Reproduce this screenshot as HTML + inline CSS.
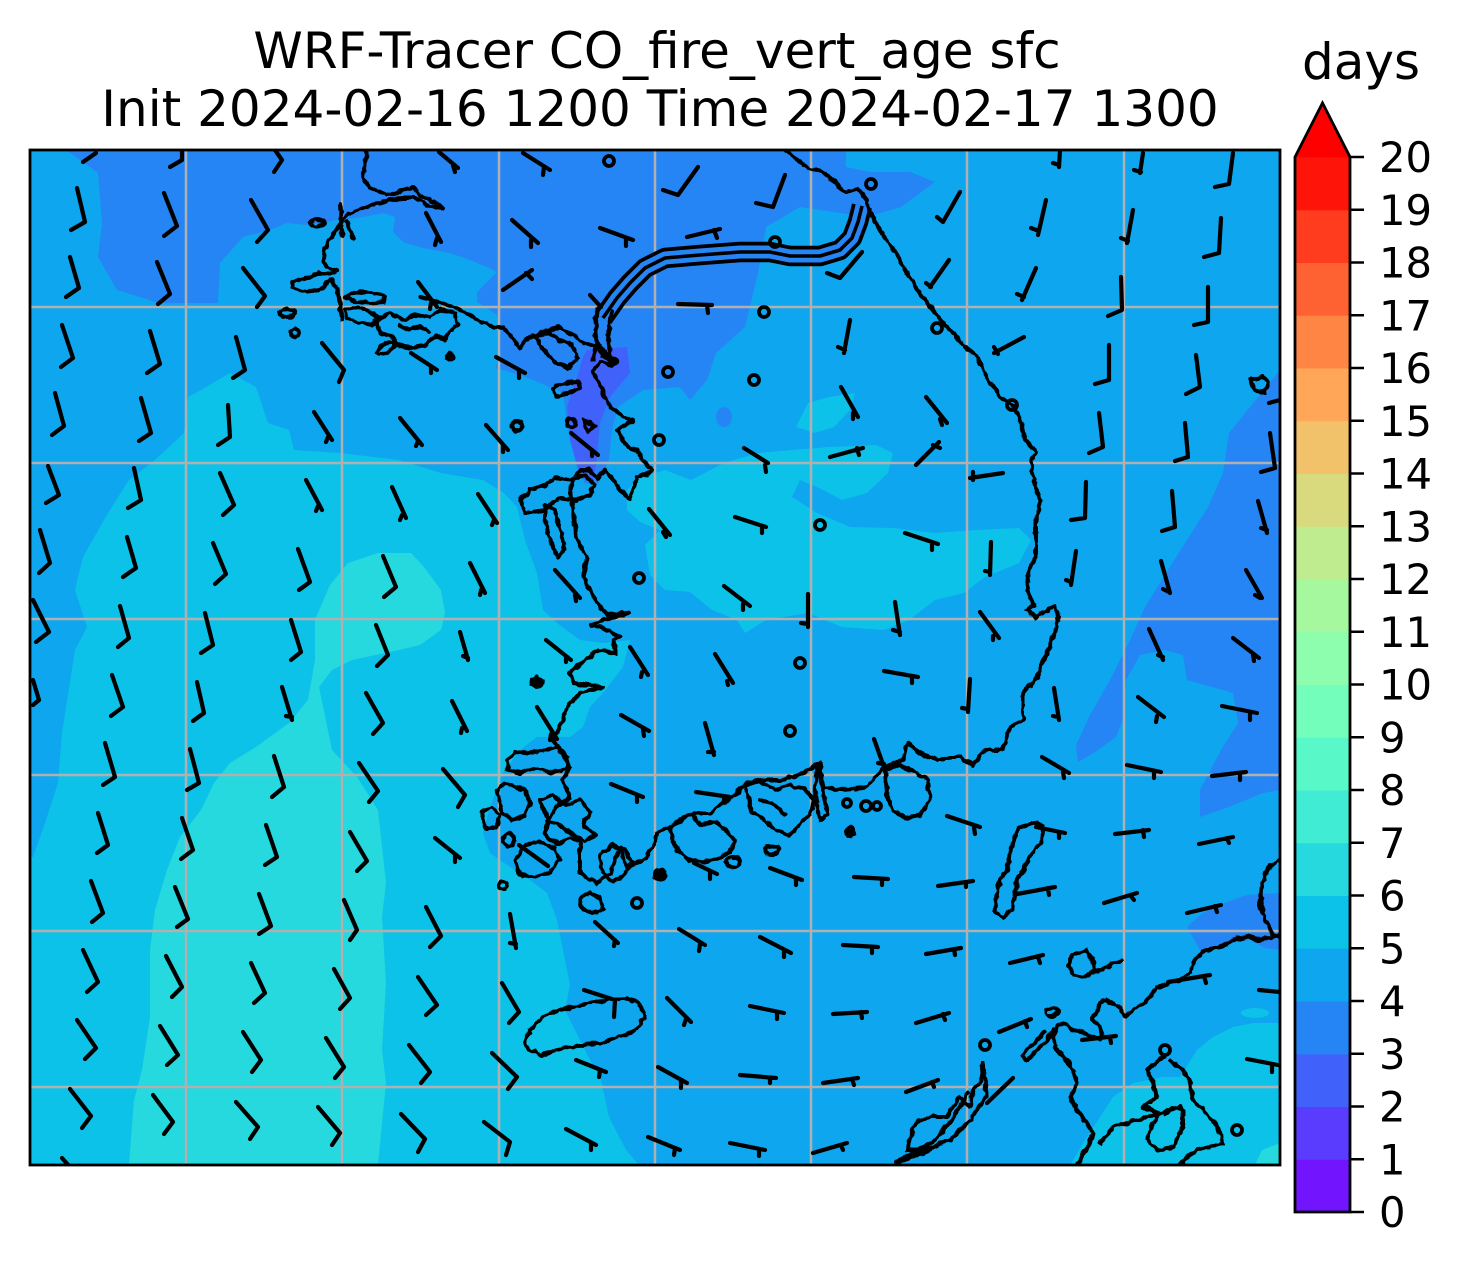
<!DOCTYPE html>
<html><head><meta charset="utf-8">
<style>
html,body{margin:0;padding:0;background:#fff;}
svg{display:block;}
text{font-family:"DejaVu Sans","Liberation Sans",sans-serif;fill:#000;}
</style></head><body>
<svg width="1462" height="1267" viewBox="0 0 1462 1267" xmlns="http://www.w3.org/2000/svg">
<defs>
<clipPath id="ax"><rect x="30" y="150" width="1250" height="1015"/></clipPath>
<filter id="rough" filterUnits="userSpaceOnUse" x="0" y="0" width="1462" height="1267">
<feTurbulence type="fractalNoise" baseFrequency="0.13" numOctaves="2" seed="3" result="n"/>
<feDisplacementMap in="SourceGraphic" in2="n" scale="5" xChannelSelector="R" yChannelSelector="G"/>
</filter>
</defs>
<rect x="0" y="0" width="1462" height="1267" fill="#fff"/>
<g clip-path="url(#ax)">
<rect x="30" y="150" width="1250" height="1015" fill="#0da6ef"/>
<polygon fill="#2685f5" points="66,150 98,173 102,223 98,257 117,290 159,303 218,303 220,263 243,237 270,230 287,223 307,225 337,220 363,217 383,213 395,217 393,232 403,242 423,248 450,253 470,260 487,267 497,272 487,282 477,292 477,302 487,308 497,315 500,332 500,343 496,368 510,372 523,376 545,385 563,393 567,423 572,445 580,463 584,483 597,485 609,460 612,430 618,407 643,390 680,387 690,400 707,380 716,353 745,327 758,273 766,227 800,207 867,217 901,207 935,182 910,172 870,172 846,167 846,150"/>
<ellipse cx="724" cy="417" rx="8" ry="10" fill="#2685f5"/>
<polygon fill="#2685f5" points="1280,370 1250,407 1229,433 1223,473 1208,507 1187,540 1166,573 1145,607 1130,640 1110,680 1090,715 1076,745 1078,762 1095,752 1116,737 1124,717 1126,680 1140,655 1165,650 1183,655 1187,680 1212,687 1233,693 1238,723 1221,750 1200,790 1200,817 1229,807 1263,793 1280,790"/>
<polygon fill="#2685f5" points="1187,927 1200,915 1213,907 1247,895 1280,893 1280,950 1265,948 1250,940 1220,945 1200,950"/>
<polygon fill="#4062fa" points="587,350 627,347 630,373 610,397 600,423 597,457 593,483 580,477 570,440 567,407 577,377 583,357"/>
<polygon fill="#0dc2e8" points="188,397 201,390 230,373 256,387 268,423 289,430 294,450 340,453 399,460 441,473 483,480 504,493 517,507 525,540 537,573 543,610 557,623 580,640 603,643 630,640 623,667 603,693 590,707 583,727 570,737 537,737 520,750 503,773 490,807 483,833 490,853 510,867 530,880 547,893 557,920 563,950 570,985 565,1010 590,1060 601,1080 609,1117 626,1150 639,1165 30,1165 30,857 33,857 45,823 58,783 62,733 75,650 87,627 75,590 83,557 108,513 129,480 155,460 184,433"/>
<polygon fill="#0dc2e8" points="627,490 640,478 665,470 691,480 724,463 758,453 792,450 829,447 876,445 893,453 888,473 867,493 842,500 817,487 800,480 792,497 817,513 850,527 893,528 935,533 977,530 1019,528 1031,540 1019,563 985,577 964,593 935,600 909,620 884,630 842,627 808,613 766,620 745,633 737,620 712,610 690,592 665,590 650,575 645,545 660,530 640,522 627,510"/>
<polygon fill="#0dc2e8" points="796,427 808,403 829,397 855,393 850,410 834,427 815,433"/>
<polygon fill="#0dc2e8" points="1070,1165 1087,1137 1113,1097 1133,1083 1163,1077 1180,1077 1197,1050 1213,1037 1233,1027 1253,1023 1280,1023 1280,1165"/>
<ellipse cx="1255" cy="1013" rx="14" ry="5" fill="#0dc2e8"/>
<polygon fill="#26d9de" points="348,563 378,553 411,553 424,567 441,590 445,613 441,630 420,645 399,650 352,660 332,670 319,687 332,750 357,777 378,810 386,883 382,917 386,983 382,1050 386,1083 382,1123 378,1165 129,1165 134,1100 142,1070 150,1017 150,950 155,910 167,870 180,837 201,810 214,783 230,763 256,747 289,723 308,700 315,660 315,620 330,585"/>
<polygon fill="#26d9de" points="1255,1165 1262,1150 1280,1143 1280,1165"/>

<g stroke="#b0b0b0" stroke-width="2.5">
<line x1="186" y1="150" x2="186" y2="1165"/><line x1="342" y1="150" x2="342" y2="1165"/><line x1="499" y1="150" x2="499" y2="1165"/><line x1="655" y1="150" x2="655" y2="1165"/><line x1="811" y1="150" x2="811" y2="1165"/><line x1="967" y1="150" x2="967" y2="1165"/><line x1="1124" y1="150" x2="1124" y2="1165"/>
<line x1="30" y1="307" x2="1280" y2="307"/><line x1="30" y1="463" x2="1280" y2="463"/><line x1="30" y1="619" x2="1280" y2="619"/><line x1="30" y1="775" x2="1280" y2="775"/><line x1="30" y1="931" x2="1280" y2="931"/><line x1="30" y1="1087" x2="1280" y2="1087"/>
</g>

<path d="M603,318 L617,298 L630,283 L645,268 L665,258 L700,255 L740,252 L770,252 L790,256 L820,256 L840,250 L852,238 L858,222 L862,206" fill="none" stroke="#000" stroke-width="20.5" stroke-linejoin="round"/>
<path d="M603,318 L617,298 L630,283 L645,268 L665,258 L700,255 L740,252 L770,252 L790,256 L820,256 L840,250 L852,238 L858,222 L862,206" fill="none" stroke="#2685f5" stroke-width="13" stroke-linejoin="round"/>
<path d="M603,318 L617,298 L630,283 L645,268 L665,258 L700,255 L740,252 L770,252 L790,256 L820,256 L840,250 L852,238 L858,222 L862,206" fill="none" stroke="#000" stroke-width="3.6" stroke-linejoin="round"/>

<g fill="none" stroke="#000" stroke-width="4" stroke-linejoin="round" stroke-linecap="round" filter="url(#rough)">
<path d="M367,150 L365,165 L363,178 L370,188 L380,192 L387,195 L397,193 L407,188 L413,187 L420,195 L430,200 L440,205 L443,208 L435,207 L427,205 L417,198 L403,198 L390,200 L377,203 L367,207 L357,210 L347,215 L342,222 L333,235 L325,248 L323,262 L328,268 L337,270 L333,273 L320,273 L307,278 L293,282 L292,288 L307,292 L320,290 L330,280 L337,288 L340,305 L342,320"/>
<path d="M340,205 L342,235 M347,222 L353,238"/>
<path d="M420,297 L430,300 L443,303 L457,308 L470,315 L483,322 L493,327 L503,328 L510,335 L517,345 L520,348 L527,338 L543,332 L560,327 L567,332 L577,338 L587,345 L597,345 L603,356 L613,362"/>
<path d="M345,298 L355,292 L372,293 L385,296 L383,302 L370,303 L355,301 Z"/>
<path d="M345,310 L358,307 L370,312 L380,318 L372,325 L358,322 L347,318 Z"/>
<path d="M375,320 L390,313 L405,320 L418,314 L430,318 L440,309 L455,313 L458,325 L450,331 L445,340 L435,336 L425,345 L412,348 L398,345 L392,336 L380,333 Z"/>
<path d="M400,325 L410,330 L420,326 L428,332"/>
<ellipse cx="386" cy="348" rx="10" ry="4" transform="rotate(-30 386 348)"/>
<ellipse cx="317" cy="223" rx="7" ry="3"/>
<ellipse cx="287" cy="313" rx="7" ry="4"/>
<circle cx="295" cy="333" r="4"/>
<circle cx="450" cy="357" r="3" fill="#000"/>
<path d="M597,308 L595,330 L597,345 L593,360 M612,312 L608,335 L610,355 L617,362 L608,364"/>
<path d="M535,337 L550,333 L560,340 L572,345 L578,358 L568,368 L555,362 L545,352 Z"/>
<path d="M553,388 L565,383 L578,382 L580,388 L568,393 L556,396 Z"/>
<circle cx="571" cy="423" r="4"/>
<circle cx="517" cy="426" r="5"/>
<path d="M583,420 L595,425 L588,432 Z"/>
<path d="M520,500 L530,490 L545,485 L555,478 L570,480 L585,475 L595,485 L590,495 L575,500 L560,498 L550,505 L540,512 L525,512 Z"/>
<path d="M545,505 L555,510 L560,530 L565,550 L557,557 L550,540 L545,520 Z"/>
<path d="M597,312 L595,335 L598,345 L610,358 L617,362 L610,366 L600,362 L593,372 L600,385 L603,393 L610,407 L623,417 L633,420 L625,425 L617,430 L627,447 L637,450 L643,460 L652,470 L645,475 L637,477 L633,490 L630,500 L620,490 L615,482 L605,470 L597,478 L590,470 L582,470 L573,478 L570,490 L573,507 L575,525 L577,540 L587,557 L583,577 L590,590 L600,607 L607,615 L620,614 L630,612 L615,618 L603,620 L592,625 L603,628 L620,637 L613,640 L617,653 L597,650 L570,673 L573,683 L603,687 L580,693 L567,707 L560,727 L553,740 L560,750 L570,767 L563,780 L570,797 L557,807 L547,820 L563,827 L580,840 L580,873 L597,883 L610,873 L620,847 L627,867 L643,860 L653,847 L657,833 L677,823 L693,813 L710,813 L727,800 L737,793 L747,783 L763,780 L783,780 L803,773 L820,763 L823,787 L843,790 L867,787 L883,767 L903,760 L907,743 L920,753 L937,760 L950,757 L960,757 L973,765 L985,750 L1002,750 L1010,727 L1023,720 L1023,693 L1038,677 L1044,660 L1055,633 L1059,617 L1055,605 L1036,617 L1027,610 L1034,605 L1027,590 L1029,570 L1036,557 L1036,523 L1040,500 L1034,480 L1031,460 L1036,452 L1025,440 L1021,423 L1015,407 L1000,397 L989,380 L981,367 L977,357 L964,345 L947,327 L930,307 L918,290 L909,277 L897,255 L882,233 L869,212 L867,200 L857,188 L846,193 L825,173 L808,168 L787,152 L785,148"/>
<path d="M507,760 L515,752 L530,753 L545,750 L560,748 L568,758 L565,770 L550,772 L535,768 L520,773 L508,770 Z"/>
<path d="M497,790 L505,783 L515,787 L525,790 L530,803 L525,815 L512,820 L502,812 Z"/>
<path d="M482,812 L492,807 L500,815 L497,828 L485,828 Z"/>
<circle cx="509" cy="840" r="6"/>
<path d="M515,860 L525,845 L540,842 L555,848 L560,860 L550,872 L535,877 L520,875 Z"/>
<path d="M540,800 L552,795 L565,805 L580,800 L590,812 L583,825 L595,835 L585,842 L570,838 L558,845 L545,835 L548,820 Z"/>
<circle cx="503" cy="885" r="4"/>
<path d="M580,898 L590,893 L600,898 L603,910 L592,913 L582,908 Z"/>
<path d="M600,855 L612,845 L625,850 L632,862 L625,875 L612,882 L602,872 Z"/>
<ellipse cx="537" cy="682" rx="6" ry="4" fill="#000"/>
<path d="M670,830 L680,818 L693,815 L700,825 L715,822 L725,830 L735,840 L730,852 L718,858 L705,862 L690,860 L678,852 Z"/>
<path d="M745,785 L760,782 L775,790 L790,785 L805,790 L815,800 L810,815 L800,825 L790,835 L775,830 L765,820 L752,812 Z"/>
<path d="M760,800 L775,805 L785,815"/>
<ellipse cx="733" cy="862" rx="7" ry="5"/>
<ellipse cx="772" cy="850" rx="7" ry="4"/>
<circle cx="850" cy="832" r="4" fill="#000"/>
<path d="M817,765 L823,790 L827,815 L820,820 L815,795 Z"/>
<path d="M885,770 L900,765 L915,772 L928,780 L930,800 L920,815 L905,818 L893,810 L887,795 Z"/>
<circle cx="660" cy="875" r="5" fill="#000"/>
<path d="M525,1043 L530,1030 L542,1017 L555,1012 L567,1008 L582,1005 L597,1002 L612,999 L626,998 L637,1002 L641,1007 L645,1017 L640,1025 L630,1033 L615,1038 L601,1043 L585,1045 L567,1048 L555,1050 L542,1055 L535,1052 L529,1050 Z"/>
<path d="M1036,822 L1044,827 L1040,843 L1030,857 L1023,870 L1017,880 L1015,893 L1012,910 L1003,917 L995,913 L997,893 L1000,880 L1007,870 L1010,855 L1015,837 L1019,828 Z"/>
<path d="M1072,955 L1085,950 L1092,958 L1095,970 L1085,977 L1073,975 L1069,965 Z M1093,973 L1122,960"/>
<path d="M1280,935 L1270,937 L1260,940 L1247,937 L1233,940 L1220,947 L1207,950 L1197,957 L1193,963 L1190,973 L1180,980 L1170,983 L1157,987 L1150,997 L1143,1003 L1133,1010 L1125,1017 L1120,1007 L1113,1003 L1107,1000 L1100,1003 L1097,1013 L1092,1017 L1095,1023 L1100,1027 L1102,1033 L1100,1040 L1093,1037 L1087,1033 L1073,1030 L1063,1023 L1057,1027 L1053,1037 L1057,1050 L1067,1060 L1073,1070 L1077,1083 L1070,1097 L1077,1110 L1087,1123 L1093,1133 L1090,1143 L1083,1153 L1078,1165"/>
<path d="M1053,1030 L1047,1040 L1037,1050 L1027,1060 L1022,1057 L1027,1050 L1037,1040 L1045,1032"/>
<path d="M1100,1143 L1113,1127 L1127,1123 L1180,1107"/>
<path d="M1163,1057 L1147,1070 L1153,1083 L1157,1097 L1143,1107 L1160,1113 L1153,1123 L1147,1140 L1157,1150 L1173,1147 L1183,1127 L1183,1110 L1173,1107 L1165,1115"/>
<path d="M1170,1060 L1183,1070 L1190,1083 L1193,1100 L1203,1110 L1213,1120 L1220,1133 L1223,1143 L1210,1147 L1197,1150 L1187,1157 L1180,1165"/>
<path d="M983,1063 L980,1083 L973,1090 L970,1107 L960,1097 L953,1107 L947,1117 L933,1117 L920,1120 L913,1127 L910,1140 L907,1150 L920,1150 L933,1147 L950,1140 L960,1130 L970,1120 L980,1105 L987,1095 Z"/>
<path d="M897,1163 L930,1150 M968,1093 L960,1107 L952,1120 L943,1130 L935,1140 L918,1150 L897,1162"/>
<ellipse cx="1052" cy="1012" rx="6" ry="4"/>
<path d="M1280,860 L1268,868 L1262,885 L1260,905 L1266,920 L1272,933 L1280,937"/>
<path d="M1250,380 L1262,377 L1268,383 L1265,393 L1255,390 Z"/>
</g>
<g fill="none" stroke="#000" stroke-width="3.8">
<circle cx="637" cy="903" r="5"/>
<circle cx="847" cy="803" r="4"/>
<circle cx="866" cy="806" r="5"/>
<circle cx="877" cy="806" r="4"/>
<circle cx="1165" cy="1050" r="5"/>
<circle cx="1237" cy="1130" r="5"/>
<circle cx="985" cy="1045" r="5"/>
<circle cx="609" cy="161" r="5"/><circle cx="871" cy="184" r="5"/><circle cx="775" cy="242" r="5"/><circle cx="764" cy="312" r="5"/><circle cx="668" cy="372" r="5"/><circle cx="754" cy="380" r="5"/><circle cx="937" cy="328" r="5"/><circle cx="1012" cy="405" r="5"/><circle cx="659" cy="440" r="5"/><circle cx="820" cy="525" r="5"/><circle cx="639" cy="578" r="5"/><circle cx="800" cy="663" r="5"/><circle cx="790" cy="731" r="5"/>
</g>

<path fill="none" stroke="#000" stroke-width="4.2" stroke-linejoin="round" stroke-linecap="round" d="
M96,153L83,162 M182,150L182,160L170,167 M275,150L282,160L274,172 M439,152L458,168M453,165L455,172 M523,153L550,170M544,167L543,175
M77,188L85,222L71,230 M164,193L177,226L164,236 M251,200L268,230L257,242 M426,213L441,242M437,238L435,245 M512,220L538,243M531,240L531,247 M600,228L633,240M626,238L626,246
M70,257L79,288L66,297 M157,262L170,294L158,304 M243,268L265,296L257,307 M418,282L437,307M431,303L430,309 M503,290L532,270M526,273L532,279 M590,295L601,307
M62,325L73,358L61,367 M150,331L160,364L147,373 M236,337L245,370L233,378 M322,343L344,370L339,382 M411,353L437,370M431,367L431,373 M496,357L525,373M519,370L519,378
M55,393L64,426L52,435 M141,398L151,433L139,441 M228,405L230,437L218,445 M314,412L332,440M328,437L326,442 M400,418L422,445M418,441L416,446 M486,425L508,450M503,446L503,452 M571,433L598,455M592,450L592,456
M48,466L59,495L46,503 M134,468L141,500L128,508 M220,473L234,505L223,515 M306,480L322,510M318,506L316,511 M392,487L406,518M402,515L400,520 M478,494L497,523M494,520L492,525
M40,530L50,563L39,573 M127,537L136,568L123,577 M213,543L226,574L215,584 M298,549L310,582L299,590 M383,556L396,587L384,597 M470,563L485,593M481,590L480,595 M555,570L580,598M575,595L576,601
M33,600L49,632L36,642 M120,606L129,638L118,647 M205,613L213,645L201,653 M291,620L301,652L291,660 M376,625L388,655L377,666 M460,632L468,660M463,656L468,658 M546,640L571,660M566,657L566,662
M33,680L39,700L33,705 M112,675L123,707L111,716 M197,682L204,713L193,721 M282,687L292,720M286,716L292,717 M366,693L383,723L373,734 M452,701L467,731M462,728L461,733 M537,707L557,739M551,734L550,740 M621,715L649,731M643,729L644,736 M630,647L648,675M642,672L641,677
M105,743L115,777L103,785 M190,749L199,783L187,790 M274,756L284,787L272,797 M359,763L378,791L369,802 M443,769L465,795L458,807 M611,784L643,797M637,795L637,802
M98,813L108,845L97,853 M182,818L193,850L181,859 M266,825L277,857L265,865 M350,832L367,861L357,871 M435,838L460,858M455,856L455,862 M519,845L548,866
M91,881L103,913L92,922 M175,887L188,919L177,927 M259,894L271,926L259,934 M344,900L357,930L350,940 M426,907L441,936L430,947 M510,914L516,948M510,943L516,944 M595,922L618,943M615,940L614,946
M83,950L98,982L87,992 M166,956L182,987L172,997 M251,963L265,993L254,1003 M334,969L350,998L340,1009 M418,977L437,1005L426,1015 M502,983L519,1012L509,1023 M584,990L615,1000L614,1017
M77,1020L96,1048L85,1059 M160,1026L178,1055L167,1065 M243,1032L261,1060L252,1072 M326,1038L344,1067L335,1078 M409,1045L430,1072L421,1083 M492,1053L517,1077L508,1089 M576,1060L606,1072M600,1071L599,1077
M70,1089L91,1116L82,1128 M153,1095L173,1122L164,1134 M236,1102L258,1127L250,1139 M318,1107L340,1133L332,1145 M401,1114L425,1139L418,1152 M484,1122L510,1142L506,1155 M566,1129L596,1145M591,1143L591,1150 M62,1158L70,1167
M663,190L678,195L698,167 M756,203L773,207L785,175 M687,237L720,229M714,230L717,238 M827,273L840,278L862,252 M937,217L943,222L960,192
M1046,200L1038,235M1031,228L1039,231 M1143,153L1140,173M1134,170L1141,172 M1060,150L1059,167M1053,163L1059,165 M1233,153L1229,184L1215,187
M1133,210L1127,243M1121,238L1128,241 M1221,218L1219,253L1204,257 M949,260L930,287M926,283L931,287 M1036,268L1022,300M1017,294L1024,297
M678,304L712,305M707,305L708,313 M1121,277L1122,310L1108,316 M1208,287L1208,322L1194,325 M850,320L844,353M838,347L845,350 M1024,337L994,353M994,347L998,354
M1109,345L1109,380L1095,384 M1196,355L1200,387L1186,394 M1269,403L1280,400 M841,387L858,417M853,413L853,419 M926,397L947,423M940,419L942,425
M1099,413L1103,447L1089,453 M1185,423L1188,457L1175,461 M1270,433L1275,468L1261,472 M744,448L768,463M765,465L766,472 M830,457L863,448M857,448L859,455
M916,465L939,442M933,445L940,448 M970,478L1003,473M973,472L973,480 M1086,482L1085,518L1071,520 M1172,491L1175,527L1162,531 M1258,501L1267,533M1261,528L1267,530
M649,509L670,535M663,532L666,537 M735,517L766,527M762,527L762,533 M905,533L938,544M932,543L932,550 M991,542L990,575M985,571L990,572 M1076,551L1071,585M1066,580L1071,582
M1161,561L1170,593M1163,589L1169,592 M1246,570L1262,598M1255,595L1260,598 M724,586L750,606M743,604L743,610 M808,594L808,627M801,623L808,624 M895,602L900,635M893,630L900,632
M980,612L999,638M993,636L993,640 M1149,629L1163,660M1158,655L1163,657 M1233,638L1259,658M1253,655L1254,661 M715,654L733,683M727,681L728,685 M884,671L918,677M912,677L912,683
M705,723L714,755M708,752L714,752 M874,739L884,767M878,763L884,764 M970,679L968,712M962,708L968,709 M1054,688L1059,720M1053,716L1058,717 M1138,697L1164,717M1157,716L1156,722
M1222,706L1257,713M1250,713L1250,720 M1042,757L1069,773M1063,772L1064,778 M1127,765L1161,772M1154,772L1154,778 M1212,776L1246,772M1240,773L1240,780 M696,792L730,797M724,797L724,802
M947,816L980,827M974,827L975,834 M1036,827L1065,833M1059,833L1059,838 M1115,834L1149,830M1143,830L1144,837 M1199,844L1233,837M1227,838L1229,843
M694,863L717,874M710,873L710,879 M770,868L802,880M796,879L796,885 M854,877L888,879M882,879L882,885 M938,886L973,881M966,882L966,887 M1017,894L1055,887M1048,888L1049,895
M1104,903L1137,893M1130,895L1134,900 M1187,913L1221,905M1215,906L1217,912 M679,929L705,945M700,944L699,951 M760,937L791,953M784,952L784,957 M843,945L878,947M872,947L872,953
M926,954L961,948M954,949L955,955 M1010,963L1043,955M1038,957L1040,963 M1168,982L1210,975M1204,976L1206,983 M1259,990L1280,992
M667,998L691,1022M686,1019L684,1025 M750,1006L784,1013M777,1013L777,1019 M833,1014L867,1012M861,1012L862,1018 M916,1023L949,1013M943,1014L945,1020 M999,1032L1031,1019M1025,1021L1027,1027
M1082,1040L1116,1036M1110,1037L1111,1043 M1247,1059L1278,1065M1272,1065L1272,1072 M658,1067L687,1083M681,1081L681,1088 M740,1075L776,1078M770,1078L770,1083 M823,1083L858,1078M852,1079L854,1085
M906,1092L938,1080M932,1082L934,1087 M987,1103L1013,1078 M648,1137L680,1150M675,1148L674,1155 M730,1143L765,1150M759,1149L759,1156 M813,1153L847,1143M841,1145L843,1150 M896,1162L926,1150"/>
</g>
<rect x="30" y="150" width="1250" height="1015" fill="none" stroke="#000" stroke-width="2.8"/>

<text x="657" y="68" font-size="50" text-anchor="middle">WRF-Tracer CO_fire_vert_age sfc</text>
<text x="660" y="126" font-size="50" text-anchor="middle">Init 2024-02-16 1200 Time 2024-02-17 1300</text>

<g>
<rect x="1295" y="1159.25" width="55" height="53.25" fill="#7314ff"/>
<rect x="1295" y="1106.5" width="55" height="53.25" fill="#593cfd"/>
<rect x="1295" y="1053.75" width="55" height="53.25" fill="#4062fa"/>
<rect x="1295" y="1001" width="55" height="53.25" fill="#2685f5"/>
<rect x="1295" y="948.25" width="55" height="53.25" fill="#0da6ef"/>
<rect x="1295" y="895.5" width="55" height="53.25" fill="#0dc2e8"/>
<rect x="1295" y="842.75" width="55" height="53.25" fill="#26d9de"/>
<rect x="1295" y="790" width="55" height="53.25" fill="#40ecd4"/>
<rect x="1295" y="737.25" width="55" height="53.25" fill="#59f8c8"/>
<rect x="1295" y="684.5" width="55" height="53.25" fill="#73febb"/>
<rect x="1295" y="631.75" width="55" height="53.25" fill="#8cfead"/>
<rect x="1295" y="579" width="55" height="53.25" fill="#a6f89e"/>
<rect x="1295" y="526.25" width="55" height="53.25" fill="#bfec8e"/>
<rect x="1295" y="473.5" width="55" height="53.25" fill="#d9d97d"/>
<rect x="1295" y="420.75" width="55" height="53.25" fill="#f2c26b"/>
<rect x="1295" y="368" width="55" height="53.25" fill="#ffa658"/>
<rect x="1295" y="315.25" width="55" height="53.25" fill="#ff8545"/>
<rect x="1295" y="262.5" width="55" height="53.25" fill="#ff6232"/>
<rect x="1295" y="209.75" width="55" height="53.25" fill="#ff3c1e"/>
<rect x="1295" y="157" width="55" height="53.25" fill="#ff140a"/>
<polygon points="1295,157.5 1350,157.5 1322.5,103" fill="#ff0000"/>
<path d="M1295,157 L1322.5,103 L1350,157 L1350,1212 L1295,1212 Z" fill="none" stroke="#000" stroke-width="2.8" stroke-linejoin="miter"/>
<g stroke="#000" stroke-width="2.5">
<line x1="1350" y1="1212" x2="1364" y2="1212"/><line x1="1350" y1="1159.25" x2="1364" y2="1159.25"/><line x1="1350" y1="1106.5" x2="1364" y2="1106.5"/><line x1="1350" y1="1053.75" x2="1364" y2="1053.75"/><line x1="1350" y1="1001" x2="1364" y2="1001"/><line x1="1350" y1="948.25" x2="1364" y2="948.25"/><line x1="1350" y1="895.5" x2="1364" y2="895.5"/><line x1="1350" y1="842.75" x2="1364" y2="842.75"/><line x1="1350" y1="790" x2="1364" y2="790"/><line x1="1350" y1="737.25" x2="1364" y2="737.25"/><line x1="1350" y1="684.5" x2="1364" y2="684.5"/><line x1="1350" y1="631.75" x2="1364" y2="631.75"/><line x1="1350" y1="579" x2="1364" y2="579"/><line x1="1350" y1="526.25" x2="1364" y2="526.25"/><line x1="1350" y1="473.5" x2="1364" y2="473.5"/><line x1="1350" y1="420.75" x2="1364" y2="420.75"/><line x1="1350" y1="368" x2="1364" y2="368"/><line x1="1350" y1="315.25" x2="1364" y2="315.25"/><line x1="1350" y1="262.5" x2="1364" y2="262.5"/><line x1="1350" y1="209.75" x2="1364" y2="209.75"/><line x1="1350" y1="157" x2="1364" y2="157"/>
</g>
<g font-size="41.7">
<text x="1379" y="1227">0</text><text x="1379" y="1174.25">1</text><text x="1379" y="1121.5">2</text><text x="1379" y="1068.75">3</text><text x="1379" y="1016">4</text><text x="1379" y="963.25">5</text><text x="1379" y="910.5">6</text><text x="1379" y="857.75">7</text><text x="1379" y="805">8</text><text x="1379" y="752.25">9</text><text x="1379" y="699.5">10</text><text x="1379" y="646.75">11</text><text x="1379" y="594">12</text><text x="1379" y="541.25">13</text><text x="1379" y="488.5">14</text><text x="1379" y="435.75">15</text><text x="1379" y="383">16</text><text x="1379" y="330.25">17</text><text x="1379" y="277.5">18</text><text x="1379" y="224.75">19</text><text x="1379" y="172">20</text>
</g>
<text x="1361" y="79" font-size="50" text-anchor="middle">days</text>
</g>
</svg>
</body></html>
